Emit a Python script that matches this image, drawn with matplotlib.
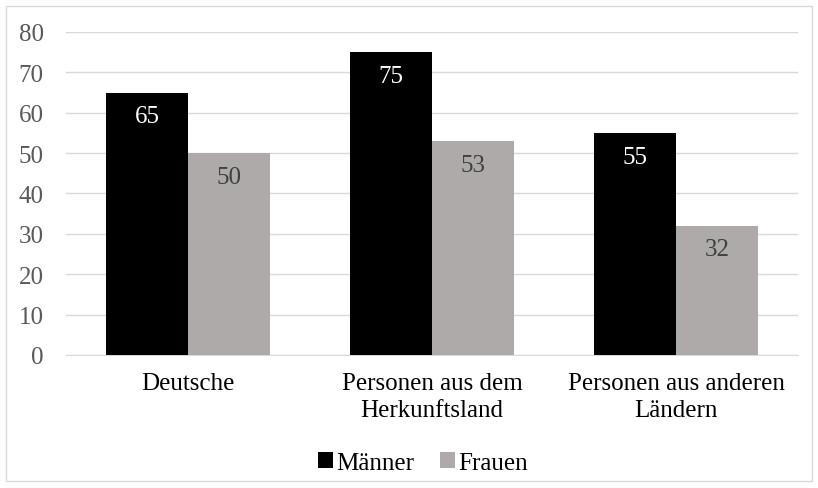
import matplotlib.pyplot as plt
import numpy as np
from matplotlib.patches import Rectangle

plt.rcParams['font.family'] = ['Liberation Serif', 'DejaVu Serif']

categories = ['Deutsche', 'Personen aus dem\nHerkunftsland', 'Personen aus anderen\nLändern']
maenner = [65, 75, 55]
frauen = [50, 53, 32]
series_names = ['Männer', 'Frauen']

black = '#000000'
gray = '#AEAAAA'

fig = plt.figure(figsize=(8.18, 4.89), dpi=100)
ax = fig.add_axes([66 / 818, 1 - 356 / 489, (798 - 66) / 818, (356 - 33) / 489])

x = np.arange(len(categories))
w = 0.336
b1 = ax.bar(x - w / 2, maenner, w, color=black, label=series_names[0], zorder=3)
b2 = ax.bar(x + w / 2, frauen, w, color=gray, label=series_names[1], zorder=3)

for rect, v in zip(b1, maenner):
    ax.annotate(str(v), (rect.get_x() + rect.get_width() / 2, v), xytext=(0, -17),
                textcoords='offset points', ha='center', va='center',
                color='white', fontsize=18, zorder=4)
for rect, v in zip(b2, frauen):
    ax.annotate(str(v), (rect.get_x() + rect.get_width() / 2, v), xytext=(0, -17),
                textcoords='offset points', ha='center', va='center',
                color='#404040', fontsize=18, zorder=4)

ax.set_xlim(-0.5, 2.5)
ax.set_ylim(0, 80)
ax.set_yticks(np.arange(0, 81, 10))
ax.grid(axis='y', color='#D9D9D9', linewidth=1, zorder=0)
for s in ['top', 'right', 'left']:
    ax.spines[s].set_visible(False)
ax.spines['bottom'].set_color('#D9D9D9')
ax.tick_params(axis='y', length=0, pad=16, labelsize=18, labelcolor='#595959')
ax.tick_params(axis='x', length=0, pad=12, labelsize=18, labelcolor='#000000')
ax.set_xticks(x)
ax.set_xticklabels(categories, linespacing=1.3)

fig.legend(loc='center', bbox_to_anchor=(423 / 818, 1 - 464 / 489), ncol=2, frameon=False,
           fontsize=18, handlelength=0.6, handleheight=0.6, handletextpad=0.15, columnspacing=1.0)

fig.patches.append(Rectangle((6 / 818, 1 - 482 / 489), (812 - 6) / 818, (482 - 7) / 489,
                             transform=fig.transFigure, fill=False, edgecolor='#D9D9D9', linewidth=1))

fig.savefig('out.png', dpi=100)
